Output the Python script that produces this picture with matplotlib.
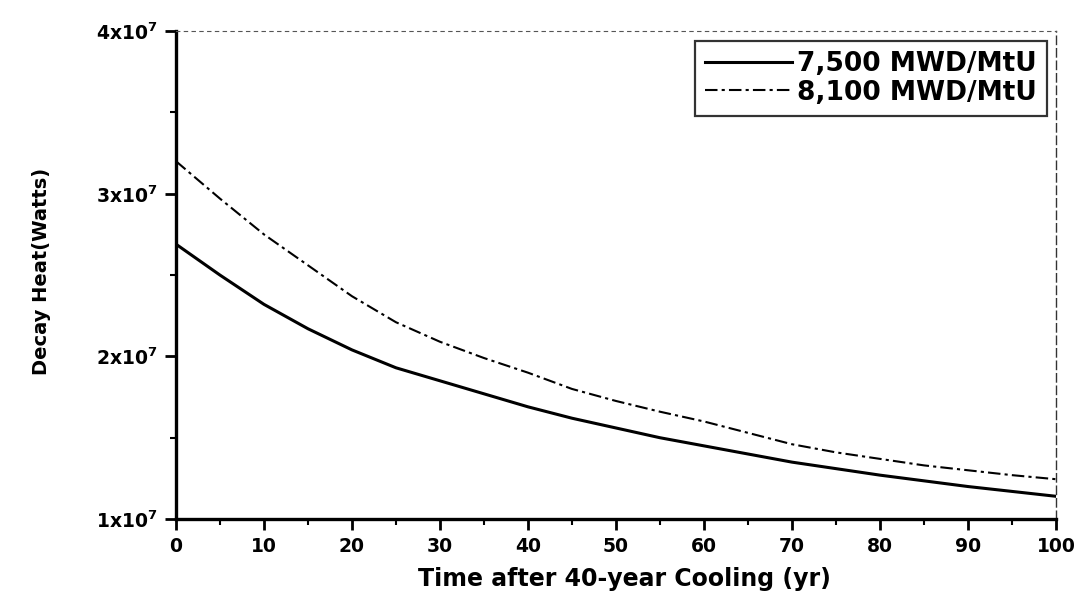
import numpy as np
import matplotlib
matplotlib.use('Agg')
import matplotlib.pyplot as plt
from matplotlib.ticker import MultipleLocator

plt.rcParams['font.family'] = ['DejaVu Sans']
plt.rcParams['font.weight'] = 'bold'
plt.rcParams['axes.labelweight'] = 'bold'
plt.rcParams['mathtext.default'] = 'bf'

# 讀圖估計值 (單位: 1e7 W)
years = [0, 5, 10, 15, 20, 25, 30, 35, 40, 45, 50, 55, 60, 65, 70, 75, 80, 85, 90, 95, 100]
heat_7500 = [2.69, 2.50, 2.32, 2.17, 2.04, 1.93, 1.85, 1.77, 1.69, 1.62, 1.56,
             1.50, 1.45, 1.40, 1.35, 1.31, 1.27, 1.235, 1.20, 1.17, 1.14]
heat_8100 = [3.20, 2.97, 2.75, 2.56, 2.37, 2.21, 2.09, 1.99, 1.90, 1.80, 1.726,
             1.66, 1.60, 1.53, 1.46, 1.41, 1.37, 1.33, 1.30, 1.27, 1.245]
labels = ["7,500 MWD/MtU", "8,100 MWD/MtU"]
yticks = [1e7, 2e7, 3e7, 4e7]
ytick_labels = ["1x10$^7$", "2x10$^7$", "3x10$^7$", "4x10$^7$"]

fig = plt.figure(figsize=(10.77, 5.98), dpi=100)
ax = fig.add_axes([0.1634, 0.132, 0.8171, 0.816])

ax.plot(years, np.array(heat_7500) * 1e7, color='black', lw=2.2, label=labels[0])
ax.plot(years, np.array(heat_8100) * 1e7, color='black', lw=1.5,
        dashes=(6, 2, 1.5, 2), label=labels[1])

ax.set_xlim(0, 100)
ax.set_ylim(1e7, 4e7)
ax.xaxis.set_major_locator(MultipleLocator(10))
ax.xaxis.set_minor_locator(MultipleLocator(5))
ax.set_yticks(yticks)
ax.set_yticklabels(ytick_labels)
ax.yaxis.set_minor_locator(MultipleLocator(0.5e7))

ax.tick_params(axis='both', which='major', direction='out', length=8, width=2, labelsize=13.5)
ax.tick_params(axis='both', which='minor', direction='out', length=4, width=1.5)
ax.tick_params(axis='x', pad=5)
ax.tick_params(axis='y', pad=5)

ax.spines['left'].set_linewidth(2.4)
ax.spines['bottom'].set_linewidth(2.4)
ax.spines['top'].set_linewidth(0.8)
ax.spines['top'].set_linestyle((0, (3, 4)))
ax.spines['top'].set_color('#555555')
ax.spines['right'].set_linewidth(1.0)
ax.spines['right'].set_linestyle((0, (6, 3)))
ax.spines['right'].set_color('#333333')

ax.set_xlabel("Time after 40-year Cooling (yr)", fontsize=17)
ax.set_ylabel("Decay Heat(Watts)", fontsize=14)
ax.xaxis.set_label_coords(0.51, -0.099)
ax.yaxis.set_label_coords(-0.142, 0.508)

leg = ax.legend(loc='upper right', prop={'size': 19, 'weight': 'bold'},
                frameon=True, fancybox=False, edgecolor='black',
                handlelength=3.3, handletextpad=0.2, borderpad=0.38,
                labelspacing=0.1, borderaxespad=0, bbox_to_anchor=(0.99, 0.98))
leg.get_frame().set_linewidth(1.6)

fig.savefig("out.png", dpi=100)
